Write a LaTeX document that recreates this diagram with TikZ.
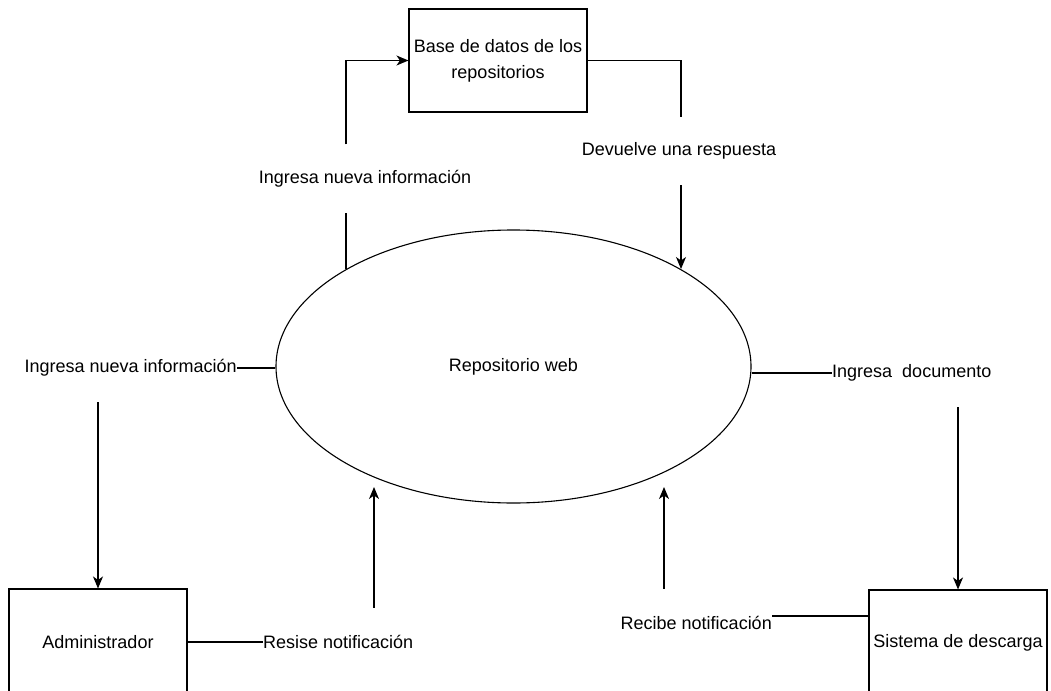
\documentclass[tikz,border=0pt]{standalone}
\usepackage{fontspec}
\setmainfont{Liberation Sans}
\usetikzlibrary{shapes.geometric,arrows.meta}
\begin{document}
\begin{tikzpicture}[x=1pt,y=-1pt,
  every node/.style={font=\fontsize{18}{26}\selectfont},
  entity/.style={draw,line width=1.1pt,minimum width=178pt,minimum height=106pt,inner sep=0pt,align=center},
  flowlabel/.style={inner sep=0pt,minimum height=68pt},
  link/.style={line width=1.1pt},
  flow/.style={link,-{Stealth[length=12pt,width=10pt,inset=3.5pt]}}]
\useasboundingbox (0,0) rectangle (1051,690);

% central process
\node[draw,ellipse,line width=1.1pt,minimum width=475pt,minimum height=273pt,inner sep=0pt]
  (web) at (513.5,366.5) {Repositorio web};

% data store and external entities
\node[entity,minimum height=103pt] (db) at (498,60.5) {Base de datos de los\\repositorios};
\node[entity] (admin) at (98,642) {Administrador};
\node[entity] (sis) at (958,643) {Sistema de descarga};

% flow labels
\node[flowlabel] (lIn1) at (365,178.5) {Ingresa nueva información};
\node[flowlabel] (lRes) at (679,151) {Devuelve una respuesta};
\node[flowlabel,anchor=east] (lIn2) at (237,368) {Ingresa nueva información};
\node[flowlabel,anchor=west] (lDoc) at (832,373) {Ingresa\ \ documento};
\node[flowlabel,anchor=west] (lNot) at (263,642) {Resise notificación};
\node[flowlabel,anchor=east] (lRec) at (772,623) {Recibe notificación};

% ends of the flows at the process
\coordinate (wTL) at (346,269);
\coordinate (wTR) at (681,269);
\coordinate (wBL) at (374,487);
\coordinate (wBR) at (664,487);

% process -> data store
\draw[link] (wTL) -- (wTL |- lIn1.south);
\draw[flow] (wTL |- lIn1.north) |- (db.west);

% data store -> process
\draw[link] (db.east) -| (wTR |- lRes.north);
\draw[flow] (wTR |- lRes.south) -- (wTR);

% process -> administrator
\draw[link] (lIn2.east) -- (lIn2.east -| web.west);
\draw[flow] (lIn2.south -| admin.north) -- (admin.north);

% process -> download system
\draw[link] (web.east |- lDoc.west) -- (lDoc.west);
\draw[flow] (lDoc.south -| sis.north) -- (sis.north);

% administrator -> process
\draw[link] (admin.east) -- (lNot.west);
\draw[flow] (lNot.north -| wBL) -- (wBL);

% download system -> process
\draw[link] ([yshift=7pt]lRec.east) -- ([yshift=7pt]lRec.east -| sis.west);
\draw[flow] (lRec.north -| wBR) -- (wBR);
\end{tikzpicture}
\end{document}
